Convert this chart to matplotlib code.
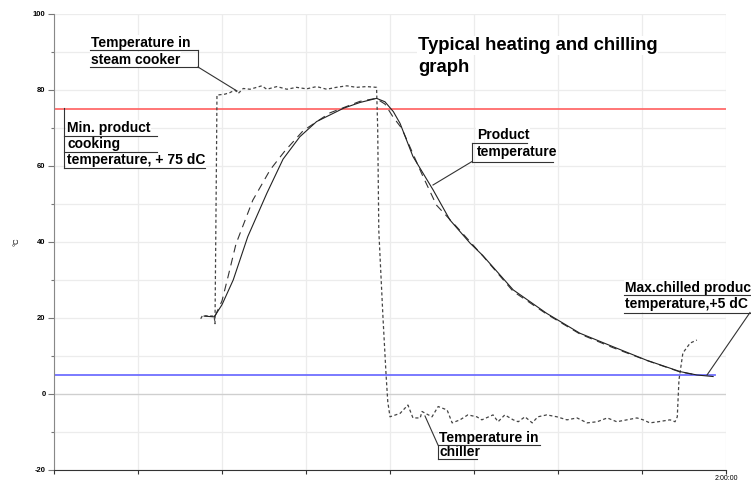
import matplotlib
matplotlib.use('Agg')
import matplotlib.pyplot as plt
from matplotlib.lines import Line2D

plt.rcParams['font.family'] = ['Liberation Sans', 'DejaVu Sans']

# time in minutes, temperature in degC
air_t = [26.2, 26.5, 28.6, 28.75, 29.0, 29.1, 29.3, 30.5, 31.4, 32.3, 32.9, 33.8, 35.0,
         36.2, 37.1, 38.0, 39.8, 41.6, 43.3, 45.1, 46.9, 48.7, 50.4, 52.3, 54.0, 55.8,
         57.6, 57.8, 58.0, 58.75, 59.3, 59.6, 60.0, 61.8, 63.2, 64.1, 65.4, 65.7, 67.5,
         68.6, 70.2, 71.1, 72.5, 73.9, 75.5, 76.4, 78.4, 79.3, 80.5, 82.0, 82.9, 84.1,
         85.4, 86.4, 88.0, 89.8, 91.6, 93.4, 95.2, 97.0, 98.8, 100.5, 102.3, 104.1,
         105.2, 106.4, 107.9, 110.0, 110.9, 111.3, 111.6, 112.3, 113.6, 114.8]
air_temp = [19.8, 20.6, 20.5, 18.5, 60.0, 78.7, 78.7, 78.9, 79.3, 80.0, 79.1, 80.4, 80.2,
            80.7, 81.1, 80.2, 80.9, 80.2, 80.7, 80.3, 80.9, 80.2, 80.7, 81.1, 80.7, 80.9,
            80.7, 70.0, 43.0, 20.0, 5.0, -2.0, -6.0, -5.1, -2.9, -6.3, -6.3, -4.6, -6.0,
            -3.3, -4.2, -7.6, -6.8, -5.5, -6.0, -6.8, -5.5, -7.3, -5.5, -6.8, -7.3, -6.0,
            -7.6, -6.0, -5.5, -6.0, -6.8, -6.3, -7.6, -7.3, -6.3, -7.3, -6.8, -6.3,
            -6.8, -7.6, -7.3, -6.8, -7.3, -6.0, 3.7, 10.8, 13.4, 14.2]

product_t = [26.8, 28.6, 28.75, 30.0, 32.0, 34.6, 38.0, 40.9, 43.9, 46.9, 51.7, 54.6, 57.6,
             59.1, 60.6, 61.8, 64.1, 67.7, 70.7, 74.3, 76.6, 82.0, 88.0, 93.9, 99.9, 105.8,
             111.8, 114.8, 117.7]
product_temp = [20.5, 20.3, 20.6, 23.5, 30.0, 41.4, 52.8, 61.8, 67.7, 71.7, 75.2, 76.7, 77.8,
                76.9, 74.3, 71.2, 62.5, 53.7, 45.8, 39.7, 36.4, 27.4, 21.2, 16.0, 12.4, 8.9,
                5.9, 5.0, 4.6]

core_t = [28.75, 30.0, 31.1, 32.5, 35.5, 38.6, 41.25, 44.5, 49.3, 54.6, 57.5, 59.1, 60.5,
          62.1, 65.9, 68.3, 71.9, 76.6, 82.0, 88.0, 93.9, 99.8, 105.9, 111.8, 114.8]
core_temp = [20.5, 24.5, 31.0, 39.5, 51.0, 59.0, 64.0, 69.3, 74.0, 77.0, 77.8, 76.3, 73.0,
             69.9, 57.2, 49.7, 44.0, 36.3, 27.0, 21.0, 15.8, 12.2, 8.8, 5.8, 5.0]

cook_limit = 75
chill_limit = 5
chill_line_end = 118

W, H = 751, 480
fig = plt.figure(figsize=(W / 100, H / 100), dpi=100)
ax = fig.add_axes([54 / W, 1 - 470 / H, 672 / W, 456 / H])
ax.set_xlim(0, 120)
ax.set_ylim(-20, 100)

ax.set_yticks(range(-20, 101, 20))
ax.set_yticks(range(-10, 100, 20), minor=True)
ax.set_xticks(range(0, 121, 15))
ax.set_xticklabels([''] * 8 + ['2:00:00'], fontsize=5)
ax.set_yticklabels([str(v) for v in range(-20, 101, 20)], fontsize=5.5, fontweight='bold')
ax.tick_params(axis='y', which='major', length=4, width=0.8, color='#777777', pad=2)
ax.tick_params(axis='y', which='minor', length=2, width=0.8, color='#777777')
ax.tick_params(axis='x', length=3, width=0.8, color='#333333', pad=0.5)
ax.grid(True, which='both', color='#ececec', lw=0.9)
ax.axhline(0, color='#cfcfcf', lw=0.9)
for s in ['top', 'right']:
    ax.spines[s].set_visible(False)
ax.spines['left'].set_color('#888888')
ax.spines['bottom'].set_color('#333333')

ax.axhline(cook_limit, color='#ff6b6b', lw=1.3)
ax.plot([0, chill_line_end], [chill_limit, chill_limit], color='#6f6fff', lw=1.3)

ax.plot(air_t, air_temp, color='#444444', lw=0.9, dashes=(2.5, 2))
ax.plot(core_t, core_temp, color='#333333', lw=0.8, dashes=(7, 5))
ax.plot(product_t, product_temp, color='#222222', lw=0.8)

fig.text(17 / W, 1 - 242 / H, '°C', rotation=90, fontsize=5.5, va='center', ha='center')


def seg(x0, y0, x1, y1):
    fig.add_artist(Line2D([x0 / W, x1 / W], [1 - y0 / H, 1 - y1 / H], color='#333333',
                          lw=0.8, zorder=10))


def label(x, y, s, size=10):
    fig.text(x / W, 1 - y / H, s, fontsize=size, fontweight='bold', va='baseline', ha='left',
             color='black', zorder=5, bbox=dict(facecolor='white', edgecolor='none', pad=0.5))


# title
label(418, 50, 'Typical heating and chilling', size=13.3)
label(418, 72, 'graph', size=13.3)

# steam cooker
label(91, 47, 'Temperature in')
label(91, 64, 'steam cooker')
seg(90, 49.5, 198, 49.5)
seg(198, 49.5, 198, 67)
seg(90, 67, 198, 67)
seg(198, 67, 237, 91)

# cooking limit
label(67, 132, 'Min. product')
label(67, 148, 'cooking')
label(67, 164, 'temperature, + 75 dC')
seg(64, 108, 64, 168)
seg(64, 136, 157, 136)
seg(64, 152, 157, 152)
seg(64, 168, 205, 168)

# product temperature
label(477, 139, 'Product')
label(477, 156, 'temperature')
seg(471.7, 143, 527, 143)
seg(471.7, 143, 471.7, 161.7)
seg(471.7, 161.7, 553, 161.7)
seg(471.7, 161.7, 433, 185)

# chiller
label(439, 442, 'Temperature in')
label(439, 456, 'chiller')
seg(438, 445, 540, 445)
seg(438, 445, 438, 459)
seg(438, 459, 477, 459)
seg(438, 445, 425, 416)

# chill limit
label(625, 292, 'Max.chilled product')
label(625, 308, 'temperature,+5 dC')
seg(624, 295, 751, 295)
seg(624, 312.5, 750, 312.5)
seg(750, 312.5, 707, 375)

fig.savefig('out.png', dpi=100)
